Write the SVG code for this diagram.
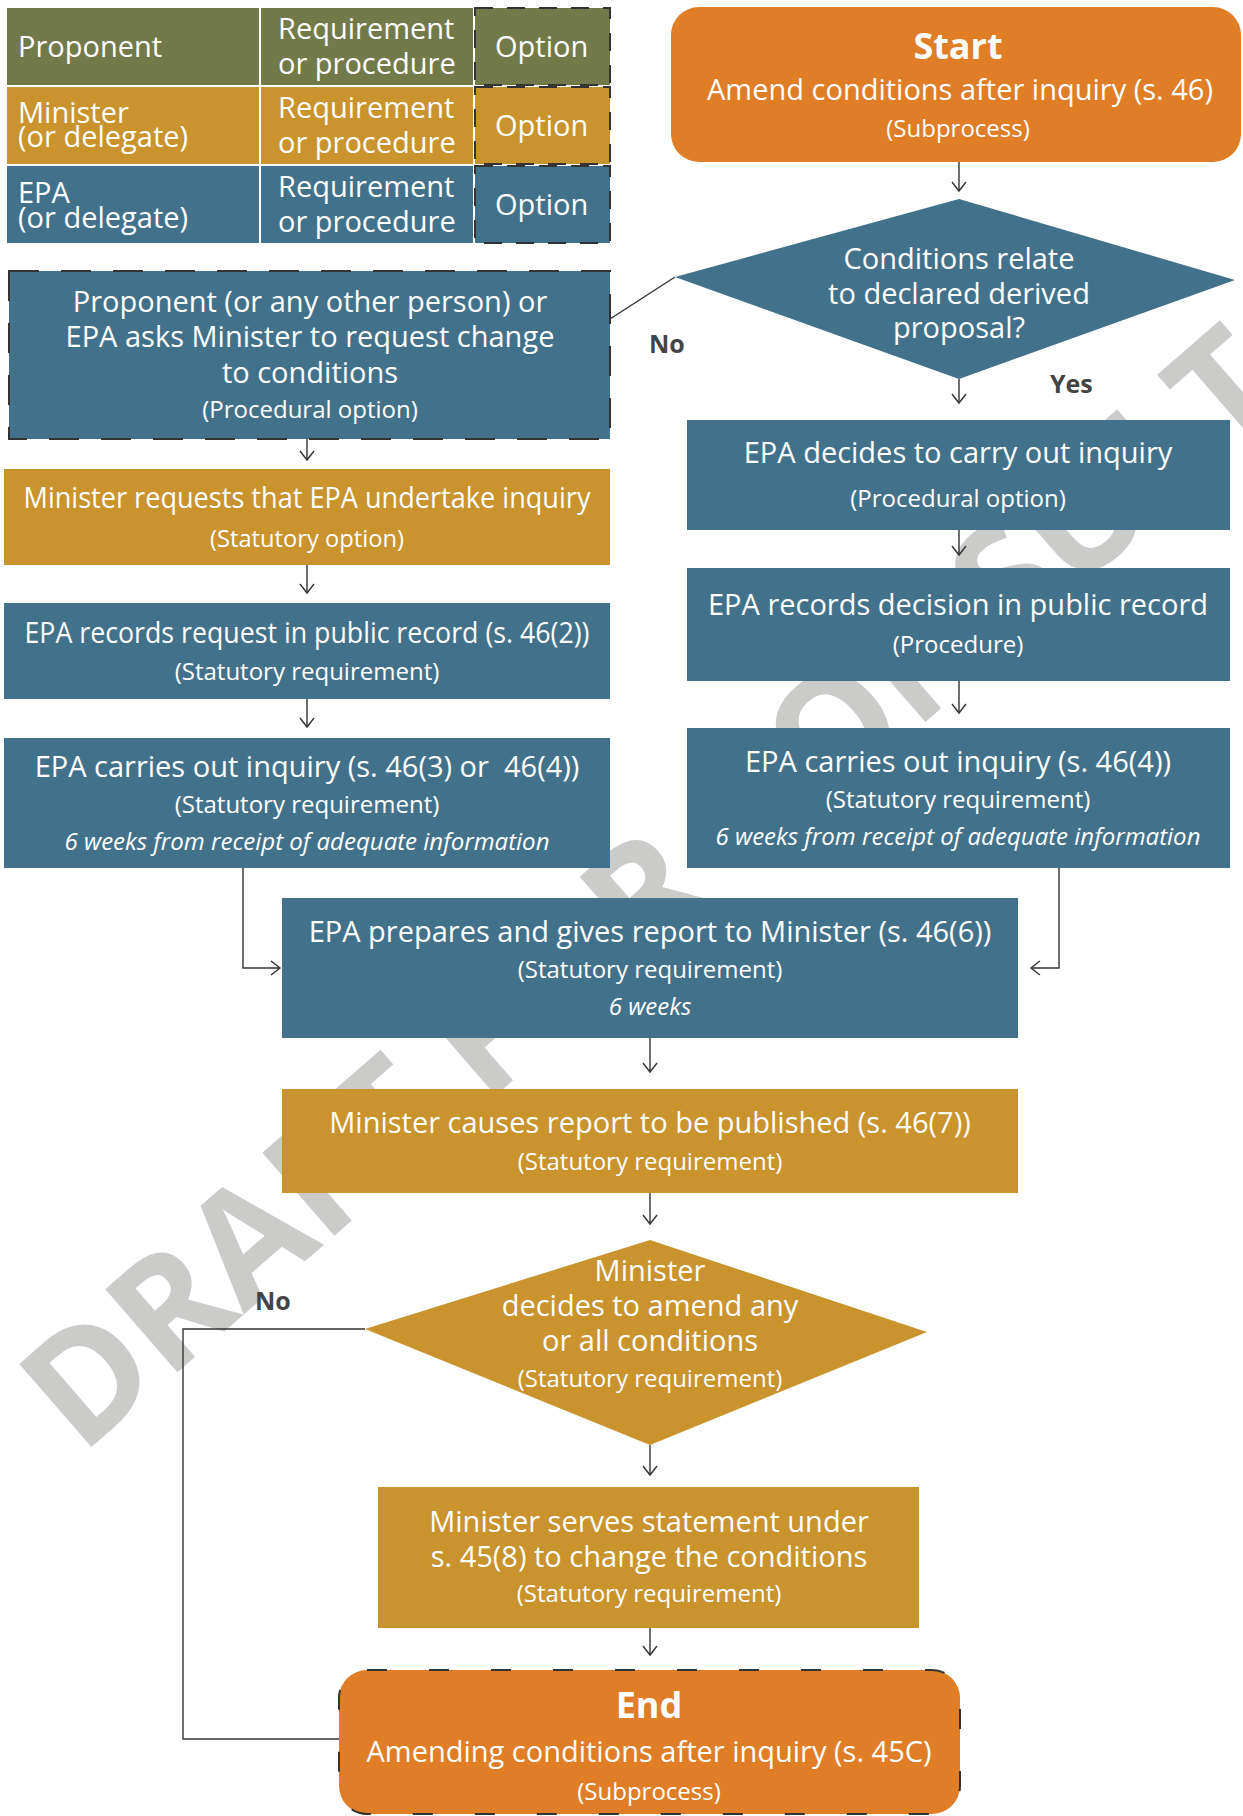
<svg xmlns="http://www.w3.org/2000/svg" width="1243" height="1816" viewBox="0 0 1243 1816">
<defs>
<style>
text { font-family: "Open Sans", "Noto Sans", "Liberation Sans", sans-serif; fill: #ffffff; }
.t { font-size: 29px; text-anchor: middle; }
.s { font-size: 24px; text-anchor: middle; }
.i { font-size: 24px; font-style: italic; text-anchor: middle; }
.h { font-size: 36px; font-weight: bold; text-anchor: middle; }
.leg { font-size: 29px; }
.lbl { font-size: 25px; font-weight: bold; fill: #444444; }
.olive { fill: #737A4A; }
.gold { fill: #C9932E; }
.blue { fill: #42728B; }
.orange { fill: #E07D27; }
.dash { stroke: #333333; stroke-width: 2; stroke-dasharray: 30 22; }
.dashE { stroke: #333333; stroke-width: 2; stroke-dasharray: 20 42; }
.conn { fill: none; stroke: #333333; stroke-width: 1.4; marker-end: url(#arr); }
.line { fill: none; stroke: #333333; stroke-width: 1.4; }
.wm { font-size: 154px; font-weight: bold; fill: #cbcbc9; }
</style>
<marker id="arr" viewBox="-10 -8 12 16" markerWidth="12" markerHeight="16" refX="0" refY="0" orient="auto" markerUnits="userSpaceOnUse">
<path d="M-9,-7 L0,0 L-9,7" fill="none" stroke="#333333" stroke-width="1.4"/>
</marker>
</defs>

<text class="wm" transform="translate(81,1456) rotate(-41)">DRAFT FOR CONSULTATION</text>

<g id="legend">
<rect class="olive" x="7" y="8" width="252" height="77"/>
<rect class="olive" x="261" y="8" width="212" height="77"/>
<rect class="olive dash" x="475" y="8" width="135" height="77" style="stroke-dasharray:18 14"/>
<rect class="gold" x="7" y="87" width="252" height="77"/>
<rect class="gold" x="261" y="87" width="212" height="77"/>
<rect class="gold dash" x="475" y="87" width="135" height="77" style="stroke-dasharray:18 14"/>
<rect class="blue" x="7" y="166" width="252" height="77"/>
<rect class="blue" x="261" y="166" width="212" height="77"/>
<rect class="blue dash" x="475" y="166" width="135" height="77" style="stroke-dasharray:18 14"/>
<text class="leg" x="18" y="57">Proponent</text>
<text class="leg" x="18" y="123">Minister</text>
<text class="leg" x="18" y="147">(or delegate)</text>
<text class="leg" x="18" y="203">EPA</text>
<text class="leg" x="18" y="228">(or delegate)</text>
<text class="leg" x="278" y="39">Requirement</text>
<text class="leg" x="278" y="74">or procedure</text>
<text class="leg" x="278" y="118">Requirement</text>
<text class="leg" x="278" y="153">or procedure</text>
<text class="leg" x="278" y="197">Requirement</text>
<text class="leg" x="278" y="232">or procedure</text>
<text class="leg" x="495" y="57">Option</text>
<text class="leg" x="495" y="136">Option</text>
<text class="leg" x="495" y="215">Option</text>
</g>

<g id="connectors">
<path class="conn" d="M959,162 L959,191"/>
<path class="line" d="M675,277 L610,319"/>
<path class="conn" d="M959,379 L959,403"/>
<path class="conn" d="M959,530 L959,555"/>
<path class="conn" d="M959,681 L959,713"/>
<path class="conn" d="M1059,868 V968 H1031"/>
<path class="conn" d="M307,439 L307,460"/>
<path class="conn" d="M307,565 L307,593"/>
<path class="conn" d="M307,699 L307,727"/>
<path class="conn" d="M243,868 V968 H280"/>
<path class="conn" d="M650,1038 L650,1072"/>
<path class="conn" d="M650,1193 L650,1224"/>
<path class="conn" d="M650,1445 L650,1475"/>
<path class="conn" d="M650,1628 L650,1655"/>
<path class="line" d="M365,1329 H183 V1739 H339"/>
<text class="lbl" x="649" y="353">No</text>
<text class="lbl" x="1050" y="393">Yes</text>
<text class="lbl" x="255" y="1310">No</text>
</g>

<g id="start">
<rect class="orange" x="671" y="7" width="570" height="155" rx="28"/>
<text class="h" x="958" y="59">Start</text>
<text class="t" x="960" y="100">Amend conditions after inquiry (s. 46)</text>
<text class="s" x="958" y="137">(Subprocess)</text>
</g>

<g id="decision1">
<polygon class="blue" points="959,199 1235,280 959,379 675,277"/>
<text class="t" x="959" y="269">Conditions relate</text>
<text class="t" x="959" y="304">to declared derived</text>
<text class="t" x="959" y="338">proposal?</text>
</g>

<g id="proponent-asks">
<rect class="blue dash" x="9" y="271" width="601" height="168"/>
<text class="t" x="310" y="312">Proponent (or any other person) or</text>
<text class="t" x="310" y="347">EPA asks Minister to request change</text>
<text class="t" x="310" y="383">to conditions</text>
<text class="s" x="310" y="418">(Procedural option)</text>
</g>

<g id="minister-requests">
<rect class="gold" x="4" y="469" width="606" height="96"/>
<text class="t" x="307" y="508" textLength="567" lengthAdjust="spacingAndGlyphs">Minister requests that EPA undertake inquiry</text>
<text class="s" x="307" y="547" textLength="194" lengthAdjust="spacingAndGlyphs">(Statutory option)</text>
</g>

<g id="epa-records-request">
<rect class="blue" x="4" y="603" width="606" height="96"/>
<text class="t" x="307" y="643" textLength="565" lengthAdjust="spacingAndGlyphs">EPA records request in public record (s. 46(2))</text>
<text class="s" x="307" y="680">(Statutory requirement)</text>
</g>

<g id="epa-inquiry-left">
<rect class="blue" x="4" y="738" width="606" height="130"/>
<text class="t" x="307" y="777" xml:space="preserve">EPA carries out inquiry (s. 46(3) or  46(4))</text>
<text class="s" x="307" y="813">(Statutory requirement)</text>
<text class="i" x="307" y="850">6 weeks from receipt of adequate information</text>
</g>

<g id="epa-decides">
<rect class="blue" x="687" y="420" width="543" height="110"/>
<text class="t" x="958" y="463">EPA decides to carry out inquiry</text>
<text class="s" x="958" y="507">(Procedural option)</text>
</g>

<g id="epa-records-decision">
<rect class="blue" x="687" y="568" width="543" height="113"/>
<text class="t" x="958" y="615">EPA records decision in public record</text>
<text class="s" x="958" y="653">(Procedure)</text>
</g>

<g id="epa-inquiry-right">
<rect class="blue" x="687" y="728" width="543" height="140"/>
<text class="t" x="958" y="772">EPA carries out inquiry (s. 46(4))</text>
<text class="s" x="958" y="808">(Statutory requirement)</text>
<text class="i" x="958" y="845">6 weeks from receipt of adequate information</text>
</g>

<g id="epa-report">
<rect class="blue" x="282" y="898" width="736" height="140"/>
<text class="t" x="650" y="942">EPA prepares and gives report to Minister (s. 46(6))</text>
<text class="s" x="650" y="978">(Statutory requirement)</text>
<text class="i" x="650" y="1015">6 weeks</text>
</g>

<g id="minister-publishes">
<rect class="gold" x="282" y="1089" width="736" height="104"/>
<text class="t" x="650" y="1133">Minister causes report to be published (s. 46(7))</text>
<text class="s" x="650" y="1170">(Statutory requirement)</text>
</g>

<g id="decision2">
<polygon class="gold" points="650,1240 927,1332 650,1445 365,1329"/>
<text class="t" x="650" y="1281">Minister</text>
<text class="t" x="650" y="1316">decides to amend any</text>
<text class="t" x="650" y="1351">or all conditions</text>
<text class="s" x="650" y="1387">(Statutory requirement)</text>
</g>

<g id="minister-serves">
<rect class="gold" x="378" y="1487" width="541" height="141"/>
<text class="t" x="649" y="1532">Minister serves statement under</text>
<text class="t" x="649" y="1567">s. 45(8) to change the conditions</text>
<text class="s" x="649" y="1602">(Statutory requirement)</text>
</g>

<g id="end">
<rect class="orange dashE" x="339" y="1670" width="621" height="144" rx="28"/>
<text class="h" x="649" y="1718">End</text>
<text class="t" x="649" y="1762">Amending conditions after inquiry (s. 45C)</text>
<text class="s" x="649" y="1800">(Subprocess)</text>
</g>
</svg>
